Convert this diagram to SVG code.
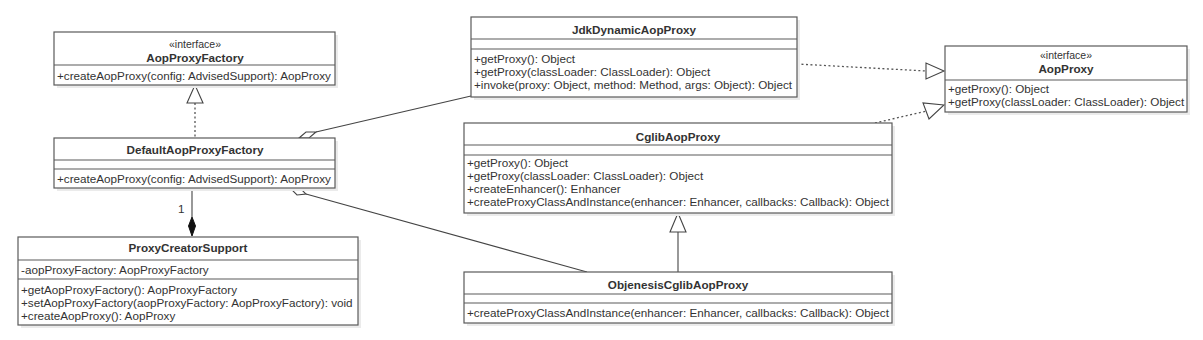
<svg xmlns="http://www.w3.org/2000/svg" width="1203" height="340" viewBox="0 0 1203 340">
<style>
.box{fill:#fff;stroke:#5a5a5a;stroke-width:1.2}
.sh{fill:#ebebeb}
.div{stroke:#5a5a5a;stroke-width:1.2}
text{font-family:"Liberation Sans",Arial,sans-serif;font-size:11.7px;fill:#333}
.n{font-weight:bold;text-anchor:middle}
.st{text-anchor:middle;font-size:10.5px}
.ln{fill:none;stroke:#444;stroke-width:1.1}
.dot{fill:none;stroke:#555;stroke-width:1.3;stroke-dasharray:2 2.5}
.tri{fill:#fff;stroke:#444;stroke-width:1.1}
</style>
<rect width="1203" height="340" fill="#fff"/>
<g id="connectors">
  <line class="dot" x1="195" y1="103" x2="195" y2="138"/>
  <polygon class="tri" points="195,85 187,103 203,103"/>
  <line class="ln" x1="316" y1="132" x2="471" y2="96"/>
  <polygon class="tri" points="299,138 306,132 316,132 309,138"/>
  <line class="ln" x1="306" y1="194" x2="587" y2="272"/>
  <polygon class="tri" points="290,188 299,187 306,194 297,195"/>
  <line class="ln" x1="192" y1="188" x2="192" y2="217"/>
  <polygon fill="#111" stroke="#111" points="192,217 195.5,226 192,236 188.5,226"/>
  <text x="178" y="213">1</text>
  <line class="dot" x1="797" y1="64" x2="926" y2="71"/>
  <polygon class="tri" points="944,71 926,63 926,79"/>
  <line class="dot" x1="875" y1="123" x2="927" y2="111"/>
  <polygon class="tri" points="944,105 923,103 929,119"/>
  <line class="ln" x1="678" y1="232" x2="678" y2="272"/>
  <polygon class="tri" points="678,213 670,232 686,232"/>
</g>
<g id="AopProxyFactory">
  <rect class="sh" x="57" y="35" width="281" height="53"/>
  <rect class="box" x="54" y="32" width="281" height="53"/>
  <line class="div" x1="54" y1="65" x2="335" y2="65"/>
  <text class="st" x="195" y="48">«interface»</text>
  <text class="n" x="195" y="62">AopProxyFactory</text>
  <text x="57" y="80">+createAopProxy(config: AdvisedSupport): AopProxy</text>
</g>
<g id="DefaultAopProxyFactory">
  <rect class="sh" x="57" y="141" width="281" height="50"/>
  <rect class="box" x="54" y="138" width="281" height="50"/>
  <line class="div" x1="54" y1="160" x2="335" y2="160"/>
  <line class="div" x1="54" y1="169" x2="335" y2="169"/>
  <text class="n" x="195" y="154">DefaultAopProxyFactory</text>
  <text x="57" y="183">+createAopProxy(config: AdvisedSupport): AopProxy</text>
</g>
<g id="ProxyCreatorSupport">
  <rect class="sh" x="21" y="240" width="340" height="88"/>
  <rect class="box" x="18" y="237" width="340" height="88"/>
  <line class="div" x1="18" y1="260" x2="358" y2="260"/>
  <line class="div" x1="18" y1="279" x2="358" y2="279"/>
  <text class="n" x="188" y="252">ProxyCreatorSupport</text>
  <text x="21" y="274">-aopProxyFactory: AopProxyFactory</text>
  <text x="21" y="294">+getAopProxyFactory(): AopProxyFactory</text>
  <text x="21" y="307">+setAopProxyFactory(aopProxyFactory: AopProxyFactory): void</text>
  <text x="21" y="320">+createAopProxy(): AopProxy</text>
</g>
<g id="JdkDynamicAopProxy">
  <rect class="sh" x="474" y="20" width="326" height="80"/>
  <rect class="box" x="471" y="17" width="326" height="80"/>
  <line class="div" x1="471" y1="39" x2="797" y2="39"/>
  <line class="div" x1="471" y1="49" x2="797" y2="49"/>
  <text class="n" x="634" y="34">JdkDynamicAopProxy</text>
  <text x="474" y="63">+getProxy(): Object</text>
  <text x="474" y="76">+getProxy(classLoader: ClassLoader): Object</text>
  <text x="474" y="89">+invoke(proxy: Object, method: Method, args: Object): Object</text>
</g>
<g id="AopProxy">
  <rect class="sh" x="948" y="49" width="242" height="66"/>
  <rect class="box" x="945" y="46" width="242" height="66"/>
  <line class="div" x1="945" y1="80" x2="1187" y2="80"/>
  <text class="st" x="1066" y="59">«interface»</text>
  <text class="n" x="1066" y="73">AopProxy</text>
  <text x="948" y="93">+getProxy(): Object</text>
  <text x="948" y="106">+getProxy(classLoader: ClassLoader): Object</text>
</g>
<g id="CglibAopProxy">
  <rect class="sh" x="467" y="126" width="428" height="90"/>
  <rect class="box" x="464" y="123" width="428" height="90"/>
  <line class="div" x1="464" y1="145" x2="892" y2="145"/>
  <line class="div" x1="464" y1="155" x2="892" y2="155"/>
  <text class="n" x="678" y="141">CglibAopProxy</text>
  <text x="467" y="167">+getProxy(): Object</text>
  <text x="467" y="180">+getProxy(classLoader: ClassLoader): Object</text>
  <text x="467" y="193">+createEnhancer(): Enhancer</text>
  <text x="467" y="206">+createProxyClassAndInstance(enhancer: Enhancer, callbacks: Callback): Object</text>
</g>
<g id="ObjenesisCglibAopProxy">
  <rect class="sh" x="467" y="275" width="428" height="51"/>
  <rect class="box" x="464" y="272" width="428" height="51"/>
  <line class="div" x1="464" y1="294" x2="892" y2="294"/>
  <line class="div" x1="464" y1="303" x2="892" y2="303"/>
  <text class="n" x="678" y="289">ObjenesisCglibAopProxy</text>
  <text x="467" y="317">+createProxyClassAndInstance(enhancer: Enhancer, callbacks: Callback): Object</text>
</g>
</svg>
